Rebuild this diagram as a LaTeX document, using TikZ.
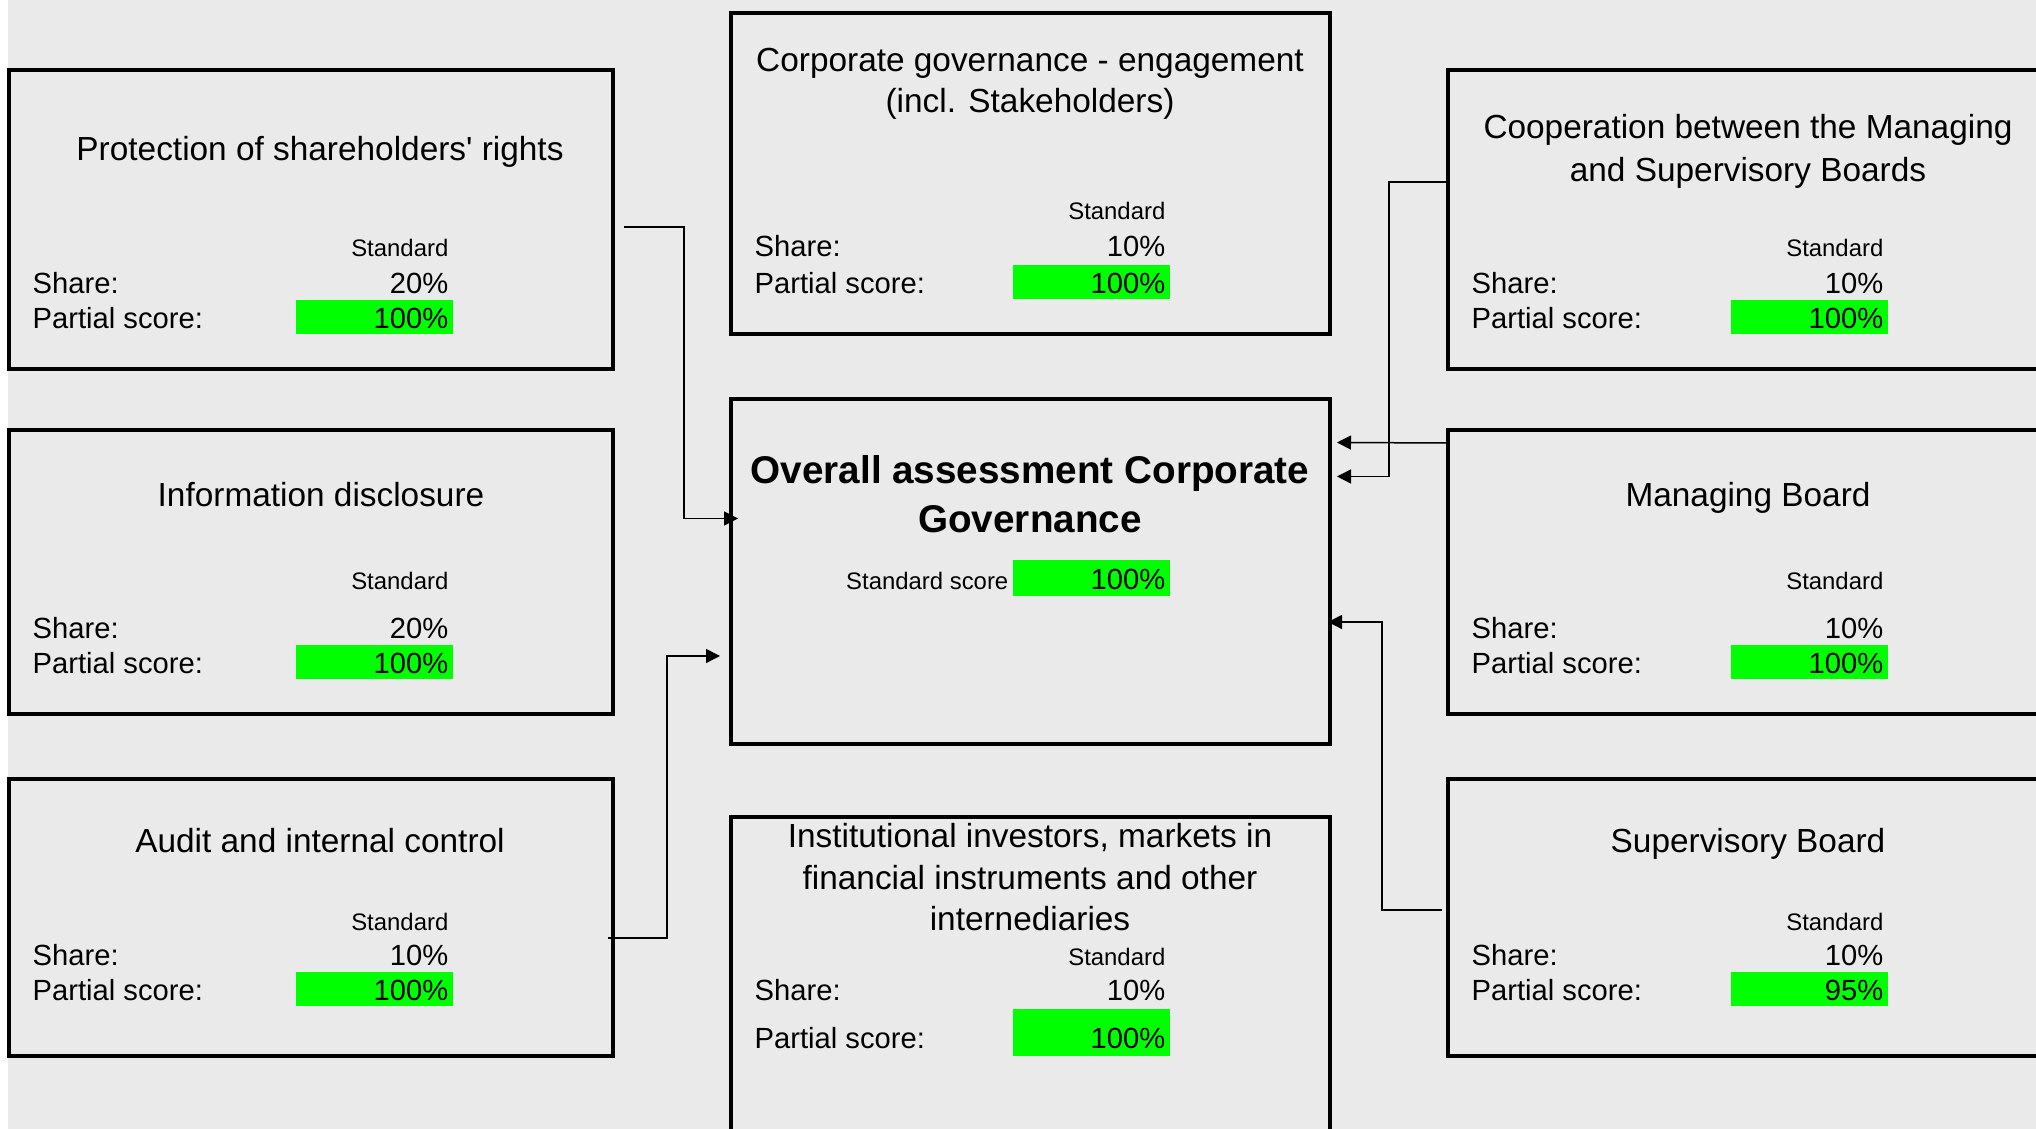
\documentclass[tikz,border=0pt]{standalone}
\usepackage{fontspec}
\setmainfont{Liberation Sans}
\usepackage{xcolor}
\usetikzlibrary{arrows.meta,calc}

\definecolor{bggray}{RGB}{234,234,234}
\definecolor{scoregreen}{RGB}{0,255,0}
\newcommand\ttlfont{\fontsize{9.5}{11.4}\selectfont}
\newcommand\lblfont{\fontsize{8.3}{10}\selectfont}
\newcommand\stdfont{\fontsize{6.8}{8.2}\selectfont}
\newcommand\headfont{\bfseries\fontsize{11}{13.2}\selectfont}

\begin{document}
\begin{tikzpicture}[x=0.1mm,y=-0.1mm,>={Triangle[length=1.4mm,width=1.4mm]},
  panel/.style={draw,line width=0.4mm,inner sep=0pt},
  ttl/.style={font=\ttlfont,inner sep=0pt,anchor=base},
  head/.style={font=\headfont,inner sep=0pt,anchor=base},
  lbl/.style={font=\lblfont,inner sep=0pt,anchor=base west},
  val/.style={font=\lblfont,inner sep=0pt,anchor=base east},
  std/.style={font=\stdfont,inner sep=0pt,anchor=base east},
  cell/.style={fill=scoregreen,font=\lblfont,inner xsep=0.5mm,inner ysep=0pt,
               text height=2.9mm,text depth=0.5mm,text width=14.7mm,
               align=right,anchor=base east},
  link/.style={line width=0.15mm,->}]
  \useasboundingbox (0,0) rectangle (2036,1129);
  \clip (0,0) rectangle (2036,1129);
  \fill[white] (0,0) rectangle (2036,1129);
  \fill[bggray] (8,0) rectangle (2036,1129);

  % left column
  \node[panel,minimum width=60.4mm,minimum height=29.9mm] (prot) at (311,219.5) {};
  \node[ttl] (prot-t) at (320,161) {Protection of shareholders\textquotesingle{} rights};
  \node[std] (prot-h) at (449,257) {Standard};
  \node[lbl] (prot-sl) at (32,294) {Share:};
  \node[val] (prot-sv) at (449,294) {20\%};
  \node[lbl] (prot-pl) at (32,329) {Partial score:};
  \node[cell] (prot-pv) at (454,329) {100\%};

  \node[panel,minimum width=60.4mm,minimum height=28.4mm] (info) at (311,572) {};
  \node[ttl] (info-t) at (321,507) {Information disclosure};
  \node[std] (info-h) at (449,590) {Standard};
  \node[lbl] (info-sl) at (32,639) {Share:};
  \node[val] (info-sv) at (449,639) {20\%};
  \node[lbl] (info-pl) at (32,674) {Partial score:};
  \node[cell] (info-pv) at (454,674) {100\%};

  \node[panel,minimum width=60.4mm,minimum height=27.7mm] (audit) at (311,917.5) {};
  \node[ttl] (audit-t) at (320,853) {Audit and internal control};
  \node[std] (audit-h) at (449,931) {Standard};
  \node[lbl] (audit-sl) at (32,966) {Share:};
  \node[val] (audit-sv) at (449,966) {10\%};
  \node[lbl] (audit-pl) at (32,1001) {Partial score:};
  \node[cell] (audit-pv) at (454,1001) {100\%};

  % middle column
  \node[panel,minimum width=59.9mm,minimum height=32.1mm] (engage) at (1030.5,173.5) {};
  \node[ttl] (engage-t1) at (1030,72) {Corporate governance - engagement};
  \node[ttl] (engage-t2) at (1030,113) {(incl. Stakeholders)};
  \node[std] (engage-h) at (1166,220) {Standard};
  \node[lbl] (engage-sl) at (754,257) {Share:};
  \node[val] (engage-sv) at (1166,257) {10\%};
  \node[lbl] (engage-pl) at (754,294) {Partial score:};
  \node[cell] (engage-pv) at (1171,294) {100\%};

  \node[panel,minimum width=59.9mm,minimum height=34.5mm] (over) at (1030.5,571.5) {};
  \node[head] (over-t1) at (1030,484) {Overall assessment Corporate};
  \node[head] (over-t2) at (1030,533) {Governance};
  \node[std] (over-sl) at (1009,590) {Standard score};
  \node[cell,text height=3.0mm,text depth=0.6mm] (over-sv) at (1171,590) {100\%};

  \node[panel,minimum width=59.9mm,minimum height=34.3mm] (inst) at (1030.5,988.5) {};
  \node[ttl] (inst-t1) at (1030,848) {Institutional investors, markets in};
  \node[ttl] (inst-t2) at (1030,890) {financial instruments and other};
  \node[ttl] (inst-t3) at (1030,931) {internediaries};
  \node[std] (inst-h) at (1166,966) {Standard};
  \node[lbl] (inst-sl) at (754,1001) {Share:};
  \node[val] (inst-sv) at (1166,1001) {10\%};
  \node[lbl] (inst-pl) at (754,1049) {Partial score:};
  \node[cell,text height=4.0mm,text depth=0.7mm] (inst-pv) at (1171,1049) {100\%};

  % right column
  \node[panel,minimum width=60.4mm,minimum height=29.9mm] (coop) at (1750,219.5) {};
  \node[ttl] (coop-t1) at (1748,139) {Cooperation between the Managing};
  \node[ttl] (coop-t2) at (1748,182) {and Supervisory Boards};
  \node[std] (coop-h) at (1884,257) {Standard};
  \node[lbl] (coop-sl) at (1471,294) {Share:};
  \node[val] (coop-sv) at (1884,294) {10\%};
  \node[lbl] (coop-pl) at (1471,329) {Partial score:};
  \node[cell] (coop-pv) at (1889,329) {100\%};

  \node[panel,minimum width=60.4mm,minimum height=28.4mm] (mgmt) at (1750,572) {};
  \node[ttl] (mgmt-t) at (1748,507) {Managing Board};
  \node[std] (mgmt-h) at (1884,590) {Standard};
  \node[lbl] (mgmt-sl) at (1471,639) {Share:};
  \node[val] (mgmt-sv) at (1884,639) {10\%};
  \node[lbl] (mgmt-pl) at (1471,674) {Partial score:};
  \node[cell] (mgmt-pv) at (1889,674) {100\%};

  \node[panel,minimum width=60.4mm,minimum height=27.7mm] (sup) at (1750,917.5) {};
  \node[ttl] (sup-t) at (1748,853) {Supervisory Board};
  \node[std] (sup-h) at (1884,931) {Standard};
  \node[lbl] (sup-sl) at (1471,966) {Share:};
  \node[val] (sup-sv) at (1884,966) {10\%};
  \node[lbl] (sup-pl) at (1471,1001) {Partial score:};
  \node[cell] (sup-pv) at (1889,1001) {95\%};

  % connectors into the overall assessment
  \draw[link] ($(prot.east)+(9,7.5)$) -- ++(60,0) |- ($(over.west)+(9,-53)$);
  \draw[link] ($(audit.east)+(-7,20.5)$) -- ++(59,0) |- ($(over.west)+(-9,84.5)$);
  \draw[link] ($(coop.west)+(0,-37.5)$) -- ++(-57,0) |- ($(over.east)+(5,-95)$);
  \draw[link] ($(mgmt.west)+(0,-129)$) -- ($(over.east)+(5,-129)$);
  \draw[link] ($(sup.west)+(-4,-7.5)$) -- ++(-60,0) |- ($(over.east)+(-4,50.5)$);
\end{tikzpicture}
\end{document}
